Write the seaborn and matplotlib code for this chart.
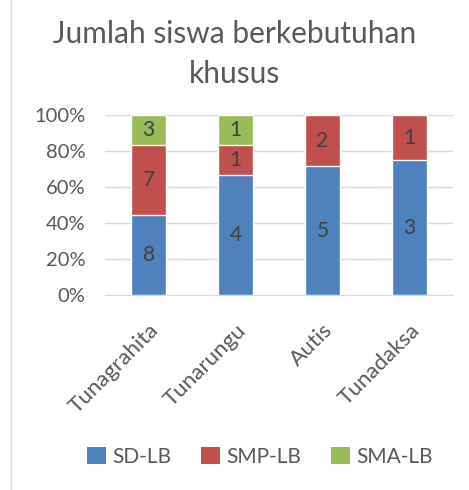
import numpy as np
import pandas as pd
import matplotlib
matplotlib.use("Agg")
import matplotlib.pyplot as plt
import seaborn as sns
from matplotlib.lines import Line2D
from matplotlib.patches import Patch

# Data
categories = ["Tunagrahita", "Tunarungu", "Autis", "Tunadaksa"]
sd_lb = [8, 4, 5, 3]
smp_lb = [7, 1, 2, 1]
sma_lb = [3, 1, 0, 0]
series_names = ["SD-LB", "SMP-LB", "SMA-LB"]
colors = ["#4F81BD", "#C0504D", "#9BBB59"]

sns.set_style("white")
plt.rcParams['font.family'] = ['Lato', 'DejaVu Sans']

counts = pd.DataFrame({"SD-LB": sd_lb, "SMP-LB": smp_lb, "SMA-LB": sma_lb}, index=categories)
pct = counts.div(counts.sum(axis=1), axis=0) * 100
cum = pct.cumsum(axis=1)

fig = plt.figure(figsize=(4.69, 4.90), dpi=100)
ax = fig.add_axes([105 / 469, 1 - 295 / 490, 348 / 469, 180 / 490])

# stacked by overlapping cumulative bars (back to front)
for name, col in zip(series_names[::-1], colors[::-1]):
    df = pd.DataFrame({"cat": categories, "val": cum[name].values})
    sns.barplot(data=df, x="cat", y="val", color=col, width=0.4,
                saturation=1, ax=ax, zorder=3)

# segment labels
for i, cat in enumerate(categories):
    bottom = 0
    for name in series_names:
        v = counts.loc[cat, name]
        h = pct.loc[cat, name]
        if v > 0:
            ax.text(i, bottom + h / 2, str(v), ha="center", va="center",
                    fontsize=15, color="#404040", zorder=5)
        bottom += h

ax.set_ylim(0, 100)
ax.set_xlim(-0.5, 3.5)
ax.set_yticks(np.arange(0, 101, 20))
ax.set_yticklabels([f"{t}%" for t in range(0, 101, 20)], fontsize=14.5, color="#595959")
ax.set_xticks(range(len(categories)))
ax.set_xticklabels(categories, rotation=45, ha="right", rotation_mode="anchor",
                   fontsize=16, color="#595959")
ax.tick_params(axis="y", length=0, pad=14)
ax.tick_params(axis="x", length=0, pad=18)
ax.set_xlabel("")
ax.set_ylabel("")
ax.grid(axis="y", color="#D9D9D9", linewidth=1, zorder=0)
ax.set_axisbelow(True)
for s in ["top", "right", "left"]:
    ax.spines[s].set_visible(False)
ax.spines["bottom"].set_color("#D9D9D9")
ax.spines["bottom"].set_zorder(4)

fig.text(0.5, 1 - 54 / 490, "Jumlah siswa berkebutuhan\nkhusus", ha="center", va="center",
         fontsize=21.5, color="#595959", linespacing=1.55)

handles = [Patch(facecolor=c, edgecolor="none") for c in colors]
fig.legend(handles, series_names, loc="center", bbox_to_anchor=(260 / 469, 1 - 457 / 490),
           ncol=3, frameon=False, fontsize=15, handlelength=0.9, handleheight=0.9,
           columnspacing=1.45, handletextpad=0.3, labelcolor="#595959")

# chart border on left
fig.add_artist(Line2D([11 / 469, 11 / 469], [0, 1], color="#D9D9D9", linewidth=1))

fig.savefig("out.png", dpi=100)
